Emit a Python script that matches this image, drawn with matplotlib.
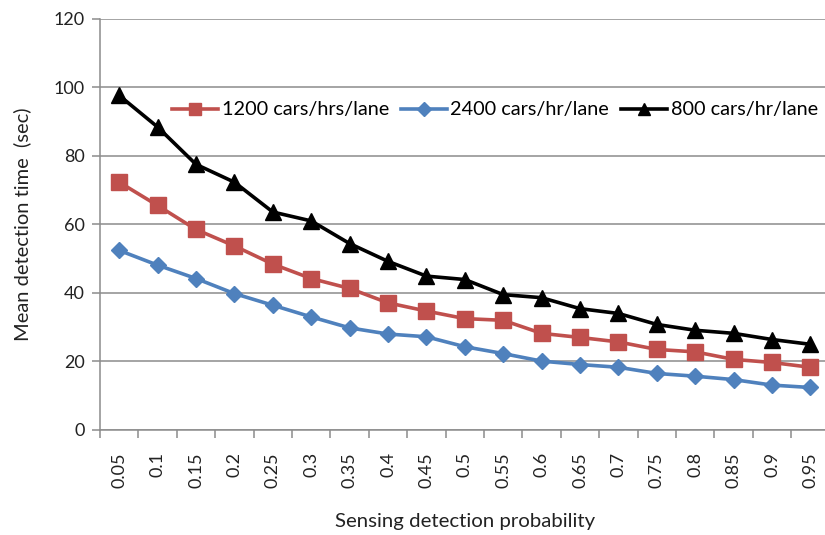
import matplotlib
matplotlib.use("Agg")
import matplotlib.pyplot as plt
import numpy as np

plt.rcParams['font.family'] = ['Lato', 'DejaVu Sans']

probabilities = ["0.05", "0.1", "0.15", "0.2", "0.25", "0.3", "0.35", "0.4", "0.45", "0.5",
                 "0.55", "0.6", "0.65", "0.7", "0.75", "0.8", "0.85", "0.9", "0.95"]

time_1200 = [72.3, 65.5, 58.5, 53.7, 48.4, 44.2, 41.3, 37.1, 34.7, 32.5,
             32.0, 28.2, 27.0, 25.7, 23.5, 22.8, 20.6, 19.7, 18.3]
time_2400 = [52.4, 48.1, 44.2, 39.8, 36.4, 33.0, 29.8, 28.0, 27.2, 24.3,
             22.3, 20.1, 19.1, 18.3, 16.5, 15.7, 14.7, 13.1, 12.4]
time_800 = [97.6, 88.4, 77.5, 72.3, 63.6, 61.0, 54.4, 49.2, 44.9, 43.9,
            39.5, 38.6, 35.4, 34.0, 30.8, 29.1, 28.2, 26.4, 25.0]

yticks = [0, 20, 40, 60, 80, 100, 120]

fig = plt.figure(figsize=(8.25, 5.35), dpi=100)
ax = fig.add_axes([100 / 825, 1 - 430 / 535, 729.6 / 825, (430 - 18.7) / 535])

x = np.arange(len(probabilities))
ax.plot(x, time_1200, color="#C0504D", lw=2.6, marker="s", ms=11, label="1200 cars/hrs/lane")
ax.plot(x, time_2400, color="#4F81BD", lw=2.6, marker="D", ms=8.5, label="2400 cars/hr/lane")
ax.plot(x, time_800, color="black", lw=2.6, marker="^", ms=11, label="800 cars/hr/lane")

ax.set_xlim(-0.5, len(probabilities) - 0.5)
ax.set_ylim(0, 120)
ax.set_yticks(yticks)
ax.set_yticklabels([str(v) for v in yticks], fontsize=13, color="#222222")
ax.yaxis.grid(True, color="#8c8c8c", lw=1.1)
ax.set_axisbelow(True)

ax.set_xticks(x)
ax.set_xticklabels(probabilities, rotation=90, fontsize=13, color="#222222")
ax.tick_params(axis="x", which="major", length=0, pad=16)
ax.set_xticks(np.arange(len(probabilities) + 1) - 0.5, minor=True)
ax.tick_params(axis="x", which="minor", length=6, color="#8c8c8c", width=1.1)
ax.tick_params(axis="y", length=6, color="#8c8c8c", width=1.1, pad=5)

for side in ("top", "right"):
    ax.spines[side].set_visible(False)
for side in ("left", "bottom"):
    ax.spines[side].set_color("#8c8c8c")
    ax.spines[side].set_linewidth(1.1)

ax.set_ylabel("Mean detection time  (sec)", fontsize=14.5, color="#222222", labelpad=16)
ax.set_xlabel("Sensing detection probability", fontsize=14.7, color="#222222", labelpad=18)

ax.legend(loc="center left", bbox_to_anchor=(72 / 729.6, (430 - 110) / 411.3), ncol=3,
          frameon=False, fontsize=14.3, handlelength=2.3, handletextpad=0.2,
          columnspacing=0.6, borderaxespad=0, borderpad=0, markerscale=0.85)

fig.savefig("out.png", dpi=100)
